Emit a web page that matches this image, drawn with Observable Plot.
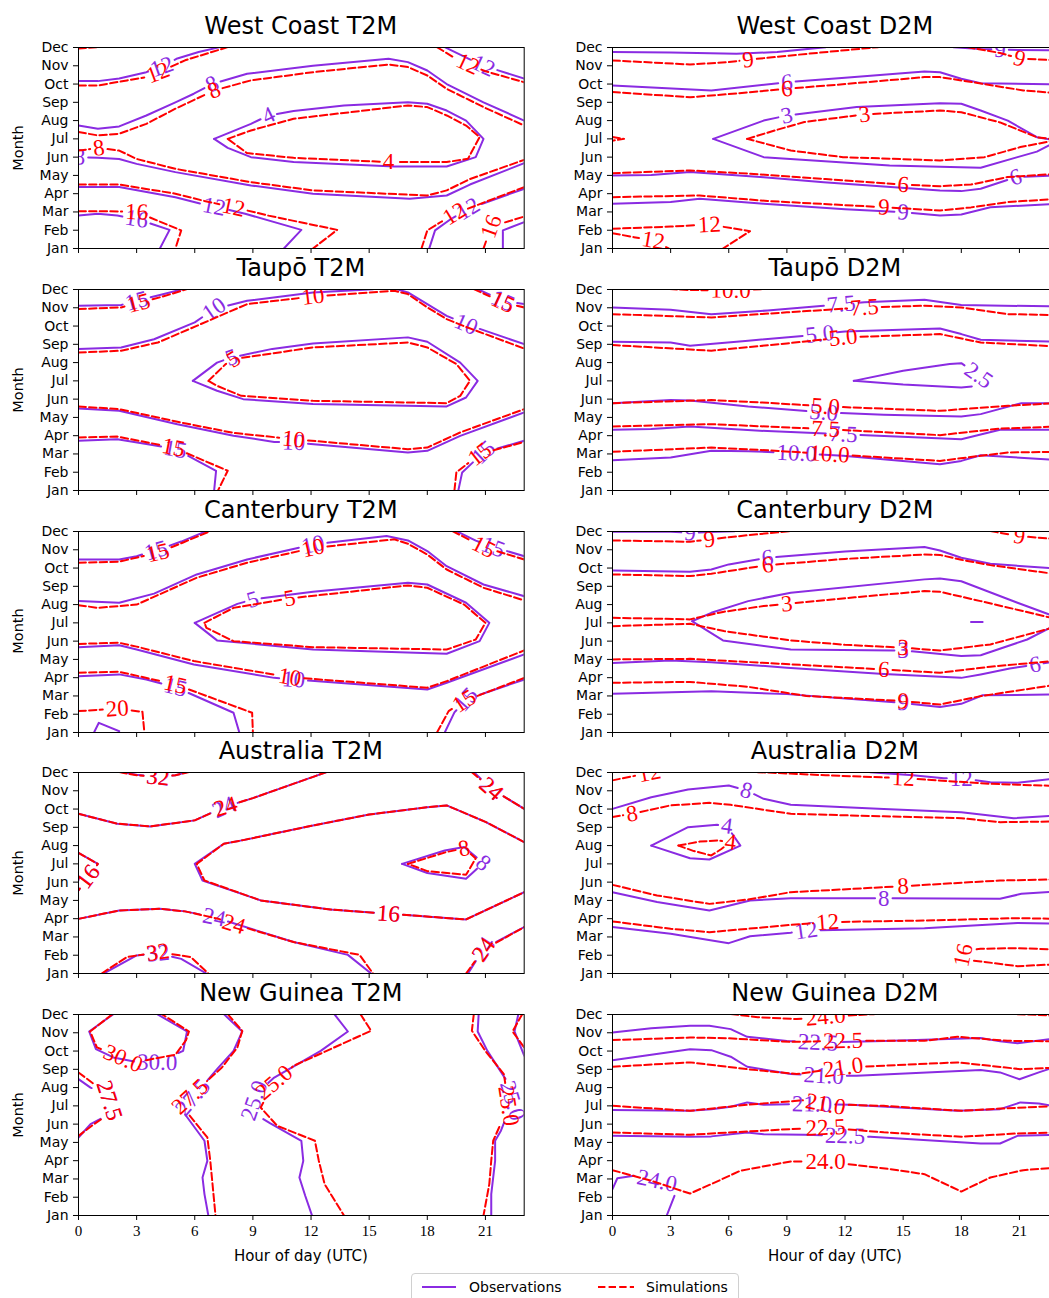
<!DOCTYPE html>
<html><head><meta charset="utf-8">
<script src="https://cdn.jsdelivr.net/npm/d3@7"></script>
<script src="https://cdn.jsdelivr.net/npm/@observablehq/plot@0.6"></script>
<style>
html,body{margin:0;padding:0;background:#fff;}
body{width:1049px;height:1298px;overflow:hidden;position:relative;color:#000;}
.pnl{position:absolute;}
.pnl svg{max-width:none !important;}
.title{position:absolute;font-family:"DejaVu Sans";font-size:24px;line-height:24px;transform:translateX(-50%);white-space:nowrap;}
.ylab{position:absolute;font-family:"DejaVu Sans";font-size:14.5px;line-height:16px;width:100px;text-align:center;transform:rotate(-90deg);}
.xlab{position:absolute;font-family:"DejaVu Sans";font-size:15px;line-height:16px;transform:translateX(-50%);white-space:nowrap;}
.legend{position:absolute;left:411px;top:1273px;width:326px;height:40px;border:1px solid #d0d0d0;border-radius:4px;background:#fff;font-family:"DejaVu Sans";font-size:14px;}
</style></head><body>
<script>
// ---------- labels ----------
const months = ["Jan","Feb","Mar","Apr","May","Jun","Jul","Aug","Sep","Oct","Nov","Dec"];
const hourTicks = [0,3,6,9,12,15,18,21];
const panelTitles = ["West Coast T2M","West Coast D2M","Taupō T2M","Taupō D2M","Canterbury T2M","Canterbury D2M","Australia T2M","Australia D2M","New Guinea T2M","New Guinea D2M"];
const labelDecimals = [0,0,0,1,0,0,0,0,1,1];
const seriesNames = ["Observations","Simulations"];

// ---------- contour lines: v = level, p = [hour, month index], l = label point ----------
const wcT2M_obs = [
 {v:12,p:[[0,9.16],[1,9.16],[2.1,9.3],[3.5,9.65],[4.3,9.95],[5.1,10.4],[6.2,10.75],[7.3,11.02]],l:[4.3,9.95]},
 {v:12,p:[[18.9,11.02],[19.8,10.55],[20.9,10.0],[23,9.3]],l:[20.9,10.0]},
 {v:8,p:[[0,6.73],[1,6.55],[2.1,6.68],[3.5,7.28],[5,8.0],[5.95,8.47],[6.9,9.0],[8.7,9.56],[12.1,10.0],[16,10.38],[17,10.2],[18,9.74],[19,9.0],[20.9,8.0],[23,7.0]],l:[6.9,9.0]},
 {v:8,p:[[0,5.0],[1,4.96],[2.1,4.9],[3,4.63],[5,4.18],[8.9,3.45],[12.1,3.0],[17.1,2.72],[19,2.9],[20.2,3.5],[23,4.67]],l:[0.05,5.0]},
 {v:4,p:[[7,6.0],[8.9,6.82],[9.8,7.28],[11.1,7.52],[13.7,7.83],[17,8.0],[18,7.92],[19,7.55],[20,7.0],[20.9,6.0],[20.5,5.0],[19,4.49],[16.3,4.49],[11.1,4.73],[8.9,5.0],[7.7,5.51],[7,6.0]],l:[9.8,7.28]},
 {v:12,p:[[0,3.36],[2.1,3.36],[5,2.8],[6.3,2.45],[7,2.3],[8.6,1.9],[11.5,1.02],[10.6,0]],l:[7,2.3]},
 {v:12,p:[[18.1,0],[18.4,0.99],[19.2,1.6],[20.1,2.17],[23,3.27]],l:[20.1,2.17]},
 {v:16,p:[[0,1.8],[1,1.9],[2,1.8],[3,1.62],[4.7,1.02],[4.2,0]],l:[3,1.62]},
 {v:16,p:[[21.9,0],[21.9,0.99],[23,1.44]],l:null}
];
const wcT2M_sim = [
 {v:16,p:[[0,10.95],[1,11.02]],l:null},
 {v:12,p:[[0,8.92],[1,8.92],[2.5,9.2],[3.5,9.38],[4.1,9.62],[5.5,10.3],[7.7,11.02]],l:[4.1,9.62]},
 {v:12,p:[[18.5,11.02],[19.3,10.5],[20.1,10.1],[21,9.7],[23,9.1]],l:[20.1,10.1]},
 {v:8,p:[[0,6.37],[1,6.19],[2.1,6.28],[3.5,6.82],[5,7.65],[7,8.65],[8.9,9.2],[12.1,9.65],[16,10.07],[17,9.93],[18,9.47],[19,8.74],[20.9,7.74],[23,6.73]],l:[7,8.65]},
 {v:8,p:[[0,5.36],[1.05,5.5],[2.1,5.36],[3,4.9],[5,4.36],[8.9,3.63],[12.1,3.18],[18,2.9],[19,3.18],[20.2,3.8],[23,4.85]],l:[1.05,5.5]},
 {v:4,p:[[7.7,6.0],[8.9,6.46],[11.1,7.1],[17,7.83],[18,7.74],[19,7.28],[20,6.73],[20.7,6.1],[20.1,4.91],[19,4.73],[16,4.73],[11.1,4.96],[8.7,5.22],[7.7,6.0]],l:[16,4.73]},
 {v:12,p:[[0,3.5],[2.1,3.5],[5,3.0],[6.5,2.6],[8,2.26],[9.8,1.8],[13.35,1.02],[12.1,0]],l:[8,2.26]},
 {v:12,p:[[17.7,0],[18,0.99],[18.7,1.45],[19.4,1.9],[23,3.36]],l:[19.4,1.9]},
 {v:16,p:[[0,2.04],[1.5,2.04],[3,2.0],[5.3,0.99],[5,0]],l:[3,2.0]},
 {v:16,p:[[20.9,0],[21.3,1.2],[23,1.75]],l:[21.3,1.2]}
];
const wcD2M_obs = [
 {v:9,p:[[0,10.75],[3,10.72],[6.4,10.66],[8.5,10.75],[11,11.02]],l:null},
 {v:9,p:[[17.6,11.02],[19,10.92],[20,10.88],[23,10.84]],l:[20,10.88]},
 {v:6,p:[[0,8.92],[5.1,8.65],[9,9.1],[12,9.35],[16.1,9.69],[16.9,9.65],[18,9.29],[19,9.05],[23,8.98]],l:[9,9.1]},
 {v:3,p:[[5.2,6.0],[7.8,7.0],[9,7.28],[12.6,7.74],[16.9,7.95],[18,7.92],[19,7.55],[20.4,7.0],[21.9,6.09],[23,5.9],[21.9,5.3],[20.9,5.0],[19,4.42],[14.3,4.54],[7.8,5.0],[5.2,6.0]],l:[9,7.28]},
 {v:6,p:[[0,4.0],[2,4.02],[4,4.18],[7.8,3.9],[10.9,3.63],[16.9,3.18],[18,3.14],[19,3.27],[20.8,3.9],[23,4.0]],l:[20.8,3.9]},
 {v:9,p:[[0,2.45],[3,2.54],[4.5,2.72],[7.8,2.45],[12,2.15],[15,1.99],[16.9,1.81],[18,1.86],[19.5,2.26],[23,2.45]],l:[15,1.99]}
];
const wcD2M_sim = [
 {v:9,p:[[0,10.29],[4,10.07],[6,10.2],[7,10.33],[10,10.65],[13.7,11.02]],l:[7,10.33]},
 {v:9,p:[[18.3,11.02],[20,10.7],[21,10.4],[23,10.29]],l:[21,10.4]},
 {v:6,p:[[0,8.56],[4,8.28],[6,8.45],[9,8.74],[12,9.0],[16.1,9.38],[16.9,9.38],[18,9.2],[21.2,8.65],[23,8.5]],l:[9,8.74]},
 {v:3,p:[[6.95,6.0],[8.5,6.5],[9.9,6.92],[13,7.34],[16.9,7.55],[18,7.46],[20,6.9],[21.9,6.09],[23,5.95],[21.05,5.55],[19.2,5.0],[16.9,4.82],[11.9,5.0],[9.2,5.36],[6.95,6.0]],l:[13,7.34]},
 {v:3,p:[[0,6.1],[0.6,6.0],[0,5.9]],l:null},
 {v:6,p:[[0,4.12],[4,4.27],[7,4.1],[11,3.8],[15,3.5],[16.9,3.41],[18.5,3.5],[20.4,3.91],[23,4.09]],l:[15,3.5]},
 {v:9,p:[[0,2.81],[4.5,2.9],[8,2.6],[14,2.26],[16.9,2.08],[18.5,2.25],[20.4,2.54],[23,2.72]],l:[14,2.26]},
 {v:12,p:[[0,1.08],[3,1.2],[5,1.31],[7.1,0.95],[5.7,0]],l:[5,1.31]},
 {v:12,p:[[0,0.84],[1.1,0.62],[2.1,0.44],[2.9,0]],l:[2.1,0.44]}
];
const tpT2M_obs = [
 {v:15,p:[[0,10.11],[2.2,10.15],[3,10.38],[4.2,10.7],[5.4,11.02]],l:[3,10.38]},
 {v:15,p:[[20.6,11.02],[21.9,10.38],[23,10.2]],l:[21.9,10.38]},
 {v:10,p:[[0,7.74],[2.2,7.83],[3.9,8.28],[6,9.2],[7,9.93],[8.7,10.38],[12.1,10.84],[15.2,11.02]],l:[7,9.93]},
 {v:10,p:[[16.4,11.02],[17,10.84],[18,10.2],[19,9.56],[20,9.1],[23,8.01]],l:[20,9.1]},
 {v:5,p:[[5.9,6.0],[7.15,7.0],[7.9,7.28],[10,7.75],[12.1,8.05],[17,8.38],[18,8.14],[19.7,7.0],[20.6,6.0],[20,5.09],[19,4.6],[12.1,4.73],[8.5,5.0],[7.15,5.46],[5.9,6.0]],l:[7.9,7.28]},
 {v:10,p:[[0,4.49],[2.1,4.36],[5.1,3.63],[8,3.0],[10.1,2.66],[11.1,2.63],[17,2.08],[18,2.17],[19.7,2.99],[23,4.27]],l:[11.1,2.63]},
 {v:15,p:[[0,2.72],[2,2.81],[3.5,2.55],[5,2.26],[7.1,1.08],[7,0]],l:[5,2.26]},
 {v:15,p:[[19.6,0],[19.8,0.99],[20.9,2.08],[23,2.72]],l:[20.9,2.08]}
];
const tpT2M_sim = [
 {v:15,p:[[0,9.93],[2.2,10.02],[3.1,10.26],[4.3,10.6],[5.6,11.02]],l:[3.1,10.26]},
 {v:15,p:[[20.4,11.02],[21.9,10.3],[23,10.02]],l:[21.9,10.3]},
 {v:10,p:[[0,7.55],[2.2,7.65],[4.1,8.1],[6.1,9.01],[8.7,10.2],[12.1,10.62],[16.3,10.93],[17,10.75],[18,10.02],[19,9.38],[20,8.95],[23,7.77]],l:[12.1,10.62]},
 {v:5,p:[[6.7,6.0],[7.6,6.92],[8,7.19],[12.1,7.83],[17,8.1],[18,7.83],[19.5,6.92],[20.2,6.0],[19.7,5.18],[19,4.78],[12.1,4.91],[8.4,5.18],[7.15,5.73],[6.7,6.0]],l:[8,7.19]},
 {v:10,p:[[0,4.6],[2.1,4.45],[5.1,3.76],[8,3.15],[11.1,2.81],[17,2.26],[18,2.35],[19.7,3.18],[23,4.45]],l:[11.1,2.81]},
 {v:15,p:[[0,2.9],[2,2.95],[4.9,2.35],[7.7,1.08],[7.2,0]],l:[4.9,2.35]},
 {v:15,p:[[19.4,0],[19.5,0.99],[20.7,1.99],[23,2.66]],l:[20.7,1.99]}
];
const tpD2M_obs = [
 {v:7.5,p:[[0,10.02],[3,9.89],[5.1,9.65],[8,9.85],[10.9,10.11],[11.8,10.2],[13,10.3],[16.1,10.44],[18,10.15],[23,10.07]],l:[11.8,10.2]},
 {v:5,p:[[0,8.14],[3,8.1],[4,7.92],[7,8.2],[9.9,8.47],[10.7,8.56],[12,8.7],[16.9,8.87],[18,8.56],[19,8.25],[23,8.14]],l:[10.7,8.56]},
 {v:2.5,p:[[12.45,6.0],[15,6.55],[17.4,6.92],[18,6.97],[18.9,6.3],[18.9,5.73],[18,5.64],[15,5.8],[12.45,6.0]],l:[18.9,6.3]},
 {v:5,p:[[0,4.78],[3,4.95],[4,4.93],[7,4.6],[10.9,4.27],[14,4.15],[18,4.05],[19,4.18],[21.1,4.78],[23,4.78]],l:[10.9,4.3]},
 {v:7.5,p:[[0,3.32],[2,3.36],[4,3.5],[8,3.25],[11.9,3.08],[18,2.81],[20,3.32],[23,3.32]],l:[11.9,3.08]},
 {v:10,p:[[0,1.66],[3,1.81],[5.1,2.17],[7,2.15],[9.5,2.04],[11.9,1.9],[16.9,1.44],[18,1.62],[19,1.93],[23,1.66]],l:[9.5,2.04]}
];
const tpD2M_sim = [
 {v:10,p:[[2.4,11.05],[4,10.97],[6.1,10.95],[8.5,11.05]],l:[6.1,10.95]},
 {v:7.5,p:[[0,9.65],[5.1,9.47],[9,9.75],[13,10.02],[16.1,10.11],[18,10.02],[20.4,9.65],[23,9.6]],l:[13,10.02]},
 {v:5,p:[[0,7.96],[5.1,7.65],[9,8.05],[11.9,8.38],[16.9,8.56],[19,8.1],[23,7.88]],l:[11.9,8.38]},
 {v:5,p:[[0,4.78],[5.1,4.95],[8,4.8],[11,4.6],[16.9,4.36],[20.4,4.64],[23,4.78]],l:[11,4.6]},
 {v:7.5,p:[[0,3.5],[5.1,3.63],[8,3.5],[11,3.36],[16.9,3.03],[20,3.39],[23,3.5]],l:[11,3.36]},
 {v:10,p:[[0,2.12],[5.1,2.35],[8,2.2],[11.2,1.99],[16.9,1.62],[19,1.9],[20.4,2.08],[23,2.12]],l:[11.2,1.99]}
];
const ctT2M_obs = [
 {v:15,p:[[0,9.47],[2.1,9.47],[3,9.65],[4,9.96],[5.3,10.45],[6.6,11.02]],l:[4,9.96]},
 {v:15,p:[[19.5,11.02],[20.5,10.5],[21.4,10.15],[23,9.65]],l:[21.4,10.15]},
 {v:10,p:[[0,7.19],[2.1,7.1],[3.9,7.6],[6.1,8.65],[8.7,9.47],[12.1,10.29],[15.9,10.75],[17,10.51],[18,9.93],[19,9.1],[20.9,8.1],[23,7.46]],l:[12.1,10.29]},
 {v:5,p:[[6,6.0],[8.2,7.04],[9,7.28],[12.1,7.7],[17,8.19],[18,8.1],[20,7.1],[21.2,6.0],[20.7,5.0],[19,4.31],[12.1,4.54],[7.15,5.04],[6,6.0]],l:[9,7.28]},
 {v:10,p:[[0,4.67],[2.1,4.78],[3,4.54],[5.95,3.72],[10.1,2.99],[11.1,2.9],[18,2.35],[19,2.72],[23,4.27]],l:[11.1,2.9]},
 {v:15,p:[[0,3.08],[2.1,3.18],[3.5,2.9],[5,2.48],[8,1.08],[8.3,0]],l:[5,2.48]},
 {v:15,p:[[18.9,0],[19.4,1.1],[20,1.81],[23,2.9]],l:[20,1.81]},
 {v:20,p:[[0.8,0],[1.05,0.53],[2.1,0.07]],l:null}
];
const ctT2M_sim = [
 {v:15,p:[[0,9.29],[2.1,9.35],[4.1,9.84],[5.4,10.4],[6.8,11.02]],l:[4.1,9.84]},
 {v:15,p:[[19.3,11.02],[20.9,10.15],[23,9.47]],l:[20.9,10.15]},
 {v:10,p:[[0,6.97],[1,6.82],[3,7.0],[6.1,8.47],[8.7,9.29],[12.1,10.1],[16.3,10.57],[17,10.33],[18,9.74],[19,8.92],[20.9,7.92],[23,7.23]],l:[12.1,10.1]},
 {v:5,p:[[6.5,6.0],[8,6.82],[10.9,7.34],[17,8.05],[18,7.92],[19.9,7.0],[21,6.0],[20.5,5.09],[19,4.54],[12.1,4.67],[8,5.0],[6.6,5.73],[6.5,6.0]],l:[10.9,7.34]},
 {v:10,p:[[0,4.85],[2.1,4.91],[3,4.7],[5.95,3.91],[10.9,3.03],[18,2.45],[19,2.81],[23,4.49]],l:[10.9,3.03]},
 {v:15,p:[[0,3.27],[2.1,3.32],[5,2.63],[8.96,1.08],[9,0]],l:[5,2.63]},
 {v:15,p:[[18.5,0],[19.1,1.17],[19.9,1.72],[23,2.99]],l:[19.9,1.72]},
 {v:20,p:[[0,1.17],[2,1.31],[3.3,1.13],[3.4,0]],l:[2,1.31]}
];
const ctD2M_obs = [
 {v:9,p:[[0,10.98],[3,10.98],[4,10.93],[5,10.97],[6.3,11.02]],l:[4,10.93]},
 {v:6,p:[[0,8.87],[4,8.8],[5.1,8.92],[6,9.2],[8,9.56],[12,9.9],[16.1,10.15],[16.9,9.96],[18,9.56],[19.5,9.23],[23,8.96]],l:[8,9.56]},
 {v:3,p:[[23,6.28],[20.9,7.1],[18,8.28],[16.9,8.43],[16.1,8.38],[9.2,7.65],[7,7.19],[5.1,6.55],[4.1,6.09],[5.7,5.04],[9.2,4.54],[15,4.49],[18,4.18],[19,4.23],[21.4,5.09],[23,5.95]],l:[15,4.49]},
 {v:3,p:[[18.5,6.05],[19.1,6.05]],l:null},
 {v:6,p:[[0,3.81],[3,3.94],[5.1,3.85],[9,3.55],[14,3.2],[18,2.99],[19,3.18],[20.5,3.5],[21.8,3.72],[23,3.9]],l:[21.8,3.72]},
 {v:9,p:[[0,2.12],[5.1,2.26],[9,2.1],[15,1.62],[16.9,1.39],[18,1.57],[19.1,2.04],[23,2.08]],l:[15,1.62]}
];
const ctD2M_sim = [
 {v:9,p:[[0,10.51],[4,10.44],[5,10.57],[7,10.8],[9.2,11.02]],l:[5,10.57]},
 {v:9,p:[[19.5,11.02],[21,10.75],[23,10.57]],l:[21,10.75]},
 {v:6,p:[[0,8.65],[4,8.56],[5.1,8.69],[8,9.16],[12,9.5],[16.1,9.74],[16.9,9.72],[18,9.45],[19.5,9.16],[23,8.65]],l:[8,9.16]},
 {v:3,p:[[0,6.28],[4,6.19],[5.7,6.6],[7.8,6.92],[9,7.04],[12.5,7.4],[16.1,7.74],[16.9,7.7],[19,7.19],[23,6.19]],l:[9,7.04]},
 {v:3,p:[[0,5.82],[4,5.95],[5.75,5.55],[9.2,5.04],[12,4.8],[15,4.64],[16.9,4.49],[19.5,4.82],[23,5.82]],l:[15,4.64]},
 {v:6,p:[[0,4.0],[4,4.03],[8,3.8],[14,3.45],[16.9,3.27],[19.5,3.6],[23,3.94]],l:[14,3.45]},
 {v:9,p:[[0,2.72],[4,2.77],[7,2.5],[10,2.0],[15,1.72],[16.9,1.53],[19,1.99],[23,2.63]],l:[15,1.72]}
];
const auT2M_obs = [
 {v:32,p:[[2.2,11.02],[3,10.88],[4.1,10.75],[5,10.85],[5.6,11.02]],l:[4.1,10.75]},
 {v:24,p:[[0,8.74],[2,8.2],[3.7,8.05],[6,8.38],[7.5,9.1],[9,9.6],[12.8,11.02]],l:[7.5,9.1]},
 {v:24,p:[[20.4,11.02],[21.3,10.11],[23,9.01]],l:[21.3,10.11]},
 {v:16,p:[[23,7.19],[21,8.3],[19,9.2],[18,9.1],[15,8.7],[12.1,8.1],[8.5,7.3],[7.5,7.1],[6,6.0],[6.4,5.09],[9.4,4.0],[13,3.5],[16,3.27],[20,2.96],[23,4.45]],l:[16,3.27]},
 {v:16,p:[[0,6.6],[1,6.0],[0.5,5.3],[0,4.54]],l:[0.5,5.3]},
 {v:8,p:[[16.7,6.0],[18.9,6.73],[19.9,6.92],[20.9,6.05],[20,5.18],[18,5.5],[16.7,6.0]],l:[20.9,6.05]},
 {v:24,p:[[0,2.99],[2.1,3.45],[4.2,3.54],[5.5,3.4],[7,3.08],[11.1,1.72],[13.9,1.02],[15.1,0]],l:[7,3.08]},
 {v:32,p:[[1.3,0],[3,0.99],[4.1,1.1],[5.3,0.8],[6.6,0]],l:[4.1,1.1]},
 {v:24,p:[[20.1,0],[20.9,1.35],[23,2.54]],l:[20.9,1.35]}
];
const auT2M_sim = [
 {v:32,p:[[2.1,11.02],[3,10.85],[4.1,10.75],[5,10.85],[5.7,11.02]],l:[4.1,10.75]},
 {v:24,p:[[0,8.74],[2,8.2],[3.7,8.05],[6,8.38],[7.5,9.1],[9,9.6],[12.8,11.02]],l:[7.6,9.12]},
 {v:24,p:[[20.3,11.02],[21.3,10.11],[23,9.01]],l:[21.3,10.11]},
 {v:16,p:[[23,7.19],[21,8.3],[19,9.2],[18,9.1],[15,8.7],[12.1,8.1],[8.5,7.3],[7.5,7.1],[6.1,6.0],[6.5,5.09],[9.4,4.0],[13,3.5],[16,3.27],[20,2.96],[23,4.45]],l:[16,3.27]},
 {v:16,p:[[0,6.6],[1,6.0],[0.5,5.3],[0,4.54]],l:[0.5,5.3]},
 {v:8,p:[[17,6.0],[19,6.65],[19.9,6.85],[20.5,6.3],[20,5.4],[18,5.6],[17,6.0]],l:[20,7.0]},
 {v:24,p:[[0,2.99],[2.1,3.45],[4.2,3.54],[5.5,3.4],[7.2,3.0],[8,2.7],[11.1,1.72],[14.5,1.02],[15.2,0]],l:[8,2.63]},
 {v:32,p:[[1.2,0],[2.5,0.9],[4.1,1.17],[5.8,0.9],[6.7,0]],l:[4.1,1.17]},
 {v:24,p:[[20,0],[20.9,1.3],[23,2.54]],l:[20.9,1.3]}
];
const auD2M_obs = [
 {v:12,p:[[13.3,11.02],[15.5,10.85],[17.1,10.69],[18,10.69],[19.5,10.47],[20.9,10.44],[23,10.69]],l:[18,10.69]},
 {v:8,p:[[0,9.01],[2,9.65],[3.9,10.07],[6,10.29],[6.9,10.02],[7.8,9.56],[9.2,9.23],[14,9.0],[18,8.83],[20.7,8.5],[23,8.65]],l:[6.9,10.02]},
 {v:4,p:[[2,7.0],[3.9,8.01],[5.4,8.14],[5.9,8.07],[6.6,7.0],[5,6.24],[4,6.31],[2,7.0]],l:[5.9,8.07]},
 {v:8,p:[[0,4.45],[2.3,3.91],[5,3.45],[7.1,4.0],[9.2,4.12],[14,4.12],[20,4.09],[21.1,4.36],[23,4.49]],l:[14,4.12]},
 {v:12,p:[[0,2.54],[3,2.17],[6,1.66],[7.1,2.04],[9.2,2.23],[10,2.35],[16.1,2.48],[20.9,2.77],[23,2.72]],l:[10,2.3]}
];
const auD2M_sim = [
 {v:12,p:[[0,10.57],[1.3,10.85],[2.1,11.02]],l:[1.9,10.97]},
 {v:12,p:[[7.5,11.02],[11,10.85],[15,10.69],[19.5,10.38],[23,10.26]],l:[15,10.69]},
 {v:8,p:[[0,8.56],[1,8.74],[3,9.2],[5,9.34],[6.1,9.23],[9.2,8.74],[14,8.6],[18,8.5],[20,8.28],[23,8.32]],l:[1,8.74]},
 {v:4,p:[[3.4,7.0],[4.5,7.22],[5.4,7.28],[6.1,7.19],[5.6,6.8],[5.1,6.46],[4.2,6.7],[3.4,7.0]],l:[6.1,7.19]},
 {v:8,p:[[0,4.85],[2.3,4.27],[5,3.81],[7,4.05],[9.2,4.45],[15,4.78],[20,5.09],[23,5.15]],l:[15,4.78]},
 {v:12,p:[[0,2.85],[3,2.45],[5,2.26],[9.2,2.66],[11.1,2.81],[16.1,2.9],[20.9,3.03],[23,2.99]],l:[11.1,2.81]},
 {v:16,p:[[23,1.31],[20.9,1.39],[19,1.35],[18.15,1.25],[18.1,1.0],[18.15,0.75],[19,0.66],[20.9,0.4],[23,0.51]],l:[18.1,1.0]}
];
const ngT2M_obs = [
 {v:30,p:[[1.8,11.02],[0.55,10.07],[0.9,9.1],[1.8,8.65],[3,8.4],[4.06,8.38],[5.4,9.01],[5.6,10.07],[4.06,11.02]],l:[4.06,8.38]},
 {v:27.5,p:[[0,7.46],[0.62,7.0],[1.5,6.6],[1.65,6.1],[1.5,5.5],[0.62,5.0],[0,4.27]],l:[1.6,6.3]},
 {v:27.5,p:[[7.5,11.02],[8.45,10.07],[8,9.01],[7.15,8.01],[5.9,6.46],[5.3,5.82],[6.5,4.09],[6.65,2.99],[6.4,2.08],[6.5,1.17],[6.7,0]],l:[5.9,6.46]},
 {v:25,p:[[13.2,11.02],[13.9,10.07],[12.5,9.01],[10.1,7.55],[9.2,6.7],[9,6.09],[9.2,5.5],[9.9,5.04],[11.5,4.09],[11.6,2.99],[11.4,2.08],[11.7,1.08],[12.05,0]],l:[9.05,6.3]},
 {v:25,p:[[20.65,11.02],[20.6,10.07],[21.1,9.01],[22.1,7.37],[22.4,6.28],[21.8,4.64],[21.5,4.09],[21.5,2.99],[21.3,1.17],[21.3,0]],l:[22.4,6.28]},
 {v:27.5,p:[[22.7,11.02],[22.5,10.07],[23,8.75]],l:null}
];
const ngT2M_sim = [
 {v:30,p:[[1.75,11.02],[0.6,10.07],[0.95,9.2],[2.3,8.6],[3.5,8.5],[5.0,8.8],[5.55,9.6],[5.7,10.07],[4.3,11.02]],l:[2.3,8.6]},
 {v:27.5,p:[[0,7.83],[0.8,7.19],[1.5,6.6],[1.65,6.1],[1.5,5.5],[0.8,5.0],[0,4.36]],l:[1.6,6.3]},
 {v:27.5,p:[[7.7,11.02],[8.45,10.1],[8.2,9.2],[7.4,8.1],[5.75,6.5],[5.4,5.91],[6.65,4.27],[6.8,3.0],[6.9,1.9],[7.07,0]],l:[5.75,6.5]},
 {v:25,p:[[14.55,11.02],[15.1,10.11],[11.1,8.19],[10.1,7.28],[9.4,5.91],[10.25,4.91],[12.2,4.09],[12.4,3.0],[12.7,1.72],[13.7,0]],l:[10.1,7.28]},
 {v:25,p:[[20.4,11.02],[20.3,10.11],[21,9.0],[21.95,7.74],[22.2,6.0],[21.4,4.09],[21.3,3.0],[21.2,1.72],[20.9,0]],l:[22.2,6.0]},
 {v:27.5,p:[[22.9,11.02],[22.4,10.07],[23,9.2]],l:null}
];
const ngD2M_obs = [
 {v:22.5,p:[[0,10.02],[2,10.25],[4,10.38],[5,10.38],[6.1,10.2],[6.95,9.78],[9,9.55],[10.6,9.47],[14,9.55],[19,9.71],[20,9.53],[20.9,9.43],[23,9.71]],l:[10.6,9.47]},
 {v:21,p:[[0,8.5],[4,9.1],[5.1,9.05],[6.1,8.69],[6.95,8.14],[9.2,7.74],[10.9,7.65],[12.6,7.65],[19,7.96],[20,7.83],[21,7.46],[22,7.83],[23,8.19]],l:[10.9,7.65]},
 {v:21,p:[[0,5.77],[4,5.73],[5.1,5.82],[6.1,5.95],[6.95,6.19],[7.8,6.06],[10,6.1],[12.3,6.06],[17.8,5.73],[20,5.82],[21.05,6.19],[22,6.13],[23,5.95]],l:[10.3,6.1]},
 {v:22.5,p:[[0,4.36],[4,4.31],[5.1,4.33],[6.95,4.54],[7.8,4.45],[9.9,4.42],[12,4.36],[13.3,4.31],[19,3.94],[20,3.94],[20.9,4.36],[23,4.42]],l:[12,4.36]},
 {v:24,p:[[0,1.44],[0.25,2.04],[1.1,2.17],[2.3,1.9],[3.2,1.08],[2.8,0]],l:[2.3,1.9]}
];
const ngD2M_sim = [
 {v:24,p:[[6.1,11.03],[7.5,10.85],[9.5,10.75],[11,10.88],[13.5,11.02]],l:[11,10.88]},
 {v:24,p:[[20.9,11.02],[23,10.93]],l:null},
 {v:22.5,p:[[0,9.6],[4,9.74],[6,9.7],[9.2,9.5],[11.9,9.56],[16.1,9.56],[17.8,9.78],[20.4,9.56],[23,9.53]],l:[11.9,9.56]},
 {v:21,p:[[0,8.14],[4,8.38],[6.95,8.01],[9.5,7.74],[11.9,8.1],[17.8,8.38],[21.05,8.01],[23,8.1]],l:[11.9,8.1]},
 {v:21,p:[[0,6.0],[4,5.73],[6.95,6.06],[9.9,6.31],[11,6.09],[14,6.0],[18,5.73],[20,5.85],[23,6.0]],l:[11,6.09]},
 {v:22.5,p:[[0,4.54],[4,4.42],[6.95,4.6],[9.2,4.73],[11,4.82],[14,4.55],[18,4.31],[20.9,4.49],[23,4.54]],l:[11,4.82]},
 {v:24,p:[[0,2.48],[2,1.9],[4,1.2],[5.1,1.72],[6.6,2.45],[9.2,2.96],[11,2.96],[14.3,2.54],[16.1,2.26],[18,1.31],[19.5,2.08],[21.2,2.48],[23,2.63]],l:[11,2.96]}
];

const panelObs = [wcT2M_obs,wcD2M_obs,tpT2M_obs,tpD2M_obs,ctT2M_obs,ctD2M_obs,auT2M_obs,auD2M_obs,ngT2M_obs,ngD2M_obs];
const panelSim = [wcT2M_sim,wcD2M_sim,tpT2M_sim,tpD2M_sim,ctT2M_sim,ctD2M_sim,auT2M_sim,auD2M_sim,ngT2M_sim,ngD2M_sim];

// ---------- layout ----------
const PURPLE = "#8a2be2", RED = "#ff0000";
const SANS = "DejaVu Sans", SERIF = "Liberation Serif";
const FW = 445.7, FH = 201;             // frame size in px
const kx = FW/23, ky = FH/11;
const FS = 23;                          // contour label font size
const colX = [78, 612];
const rowTop = [47, 289, 530.5, 772, 1014];

function textW(t){ let w=0; for (const c of t) w += (c==="." ? 0.25 : 0.5)*FS; return w; }

function slicePath(px, cum, s0, s1){
  const L = cum[cum.length-1];
  s0 = Math.max(0, s0); s1 = Math.min(L, s1);
  const at = s => {
    let i = 1; while (i < cum.length-1 && cum[i] < s) i++;
    const a = px[i-1], b = px[i], d = cum[i]-cum[i-1];
    const t = d > 0 ? (s-cum[i-1])/d : 0;
    return [a[0]+(b[0]-a[0])*t, a[1]+(b[1]-a[1])*t];
  };
  const out = [at(s0)];
  for (let i=0;i<px.length;i++) if (cum[i] > s0 && cum[i] < s1) out.push(px[i]);
  out.push(at(s1));
  return out;
}

function build(lines, dec, tag){
  const segs = [], labs = [];
  lines.forEach((ln, li) => {
    const px = ln.p.map(([h,m]) => [h*kx, (11-m)*ky]);
    const cum = [0];
    for (let i=1;i<px.length;i++) cum.push(cum[i-1] + Math.hypot(px[i][0]-px[i-1][0], px[i][1]-px[i-1][1]));
    const L = cum[cum.length-1];
    let pieces = [[0, L]];
    if (ln.l){
      const q = [ln.l[0]*kx, (11-ln.l[1])*ky];
      let best = {d: Infinity};
      for (let i=1;i<px.length;i++){
        const a = px[i-1], b = px[i];
        const dx = b[0]-a[0], dy = b[1]-a[1], len2 = dx*dx+dy*dy;
        let t = len2 > 0 ? ((q[0]-a[0])*dx + (q[1]-a[1])*dy)/len2 : 0;
        t = Math.max(0, Math.min(1, t));
        const pt = [a[0]+dx*t, a[1]+dy*t];
        const d = Math.hypot(pt[0]-q[0], pt[1]-q[1]);
        if (d < best.d) best = {d, s: cum[i-1] + t*Math.sqrt(len2), ang: Math.atan2(dy, dx), pt};
      }
      const text = ln.v.toFixed(dec);
      const g = textW(text)/2 + 3;
      pieces = [[0, best.s-g], [best.s+g, L]];
      let a = best.ang*180/Math.PI;
      if (a > 90) a -= 180; if (a < -90) a += 180;
      labs.push({x: best.pt[0]/kx, y: 11 - best.pt[1]/ky, text, rotate: a});
    }
    pieces.forEach(([s0, s1], pi) => {
      if (s1 - s0 <= 0.5) return;
      slicePath(px, cum, s0, s1).forEach(([X, Y]) => segs.push({x: X/kx, y: 11 - Y/ky, id: tag+li+"_"+pi}));
    });
  });
  return {segs, labs};
}

function addDiv(cls, text, style){
  const d = document.createElement("div");
  d.className = cls; d.textContent = text;
  Object.assign(d.style, style);
  document.body.appendChild(d);
  return d;
}

for (let i=0;i<10;i++){
  const row = Math.floor(i/2), col = i%2;
  const bottom = row === 4;
  const dec = labelDecimals[i];
  const obs = build(panelObs[i], dec, "o");
  const sim = build(panelSim[i], dec, "s");
  const ml = 72, mr = 12, mt = 4, mb = bottom ? 34 : 10;
  const cw = ml + FW + mr, ch = mt + FH + mb;
  const chart = Plot.plot({
    width: cw, height: ch,
    marginLeft: ml, marginRight: mr, marginTop: mt, marginBottom: mb,
    x: {domain: [0, 23]},
    y: {domain: [0, 11]},
    style: {background: "transparent", color: "#000", fontFamily: SANS, fontSize: "14px", overflow: "visible", maxWidth: "none"},
    marks: [
      Plot.line(obs.segs, {x: "x", y: "y", z: "id", stroke: PURPLE, strokeWidth: 2, clip: true}),
      Plot.text(obs.labs, {x: "x", y: "y", text: "text", rotate: "rotate", fill: PURPLE, fontSize: FS, fontFamily: SERIF, clip: true}),
      Plot.line(sim.segs, {x: "x", y: "y", z: "id", stroke: RED, strokeWidth: 2, strokeDasharray: "7.4,3.2", clip: true}),
      Plot.text(sim.labs, {x: "x", y: "y", text: "text", rotate: "rotate", fill: RED, fontSize: FS, fontFamily: SERIF, clip: true}),
      Plot.frame({stroke: "#000", strokeWidth: 1}),
      Plot.axisY({ticks: d3.range(12), tickFormat: m => months[m], tickSize: 5, tickPadding: 5, fontSize: 14, fontFamily: SANS, label: null}),
      Plot.axisX({ticks: hourTicks, tickFormat: bottom ? (d => String(d)) : (() => ""), tickSize: 5, tickPadding: 5, fontSize: 15, fontFamily: SERIF, label: null})
    ]
  });
  chart.querySelectorAll('g[aria-label="x-axis tick label"]').forEach(g => g.setAttribute("font-family", SERIF));
  chart.style.maxWidth = "none";
  chart.style.width = cw + "px";
  chart.style.height = ch + "px";
  const wrap = document.createElement("div");
  wrap.className = "pnl";
  wrap.style.left = (colX[col] - ml) + "px";
  wrap.style.top = (rowTop[row] - mt) + "px";
  wrap.style.width = cw + "px";
  wrap.style.height = ch + "px";
  wrap.appendChild(chart);
  document.body.appendChild(wrap);

  addDiv("title", panelTitles[i], {left: (colX[col] + FW/2) + "px", top: (rowTop[row] - 33) + "px"});
  if (col === 0) addDiv("ylab", "Month", {left: (18 - 50) + "px", top: (rowTop[row] + FH/2 - 8) + "px"});
  if (bottom) addDiv("xlab", "Hour of day (UTC)", {left: (colX[col] + FW/2) + "px", top: (rowTop[row] + FH + 33) + "px"});
}

// legend
const lg = document.createElement("div");
lg.className = "legend";
lg.innerHTML = `<svg width="326" height="40" style="position:absolute;left:0;top:0">
<line x1="10" y1="13" x2="44" y2="13" stroke="${PURPLE}" stroke-width="2"/>
<line x1="186" y1="13" x2="222" y2="13" stroke="${RED}" stroke-width="2" stroke-dasharray="7.4,3.2"/>
<text x="57" y="18" font-family="${SANS}" font-size="14">${seriesNames[0]}</text>
<text x="234" y="18" font-family="${SANS}" font-size="14">${seriesNames[1]}</text></svg>`;
document.body.appendChild(lg);
</script>
</body></html>
